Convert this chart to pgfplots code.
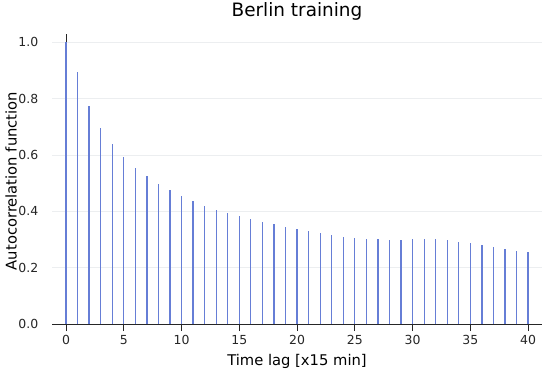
\documentclass[border=0pt]{standalone}
\usepackage{fontspec}
\setmainfont{DejaVu Sans}
\usepackage{pgfplots}
\pgfplotsset{compat=1.18}
\definecolor{stick}{RGB}{102,126,214}
\definecolor{gridc}{RGB}{236,238,240}
\begin{document}
\begin{tikzpicture}
\begin{axis}[
  scale only axis,
  width=490bp, height=290bp,
  at={(0,0)}, anchor=south west,
  xmin=-1.21, xmax=41.2,
  ymin=0, ymax=1.03,
  axis x line*=bottom,
  axis y line*=left,
  y axis line style={draw=none},
  x axis line style={draw=black!85, line width=0.9bp},
  xtick={0,5,...,40},
  ytick={0,0.2,...,1.0},
  yticklabel style={/pgf/number format/fixed, /pgf/number format/fixed zerofill, /pgf/number format/precision=1, inner sep=0pt, anchor=east, xshift=-6.5bp},
  /pgf/number format/assume math mode=true,
  ticklabel style={font=\fontsize{12.5}{14}\selectfont, text=black!85},
  ytick style={draw=none},
  xtick style={draw=black!85, line width=0.9bp},
  tick align=outside,
  major tick length=7bp,
  ymajorgrids,
  major grid style={draw=gridc, line width=0.8bp},
  extra x ticks={0},
  extra x tick labels={},
  extra x tick style={xmajorgrids=true, major grid style={draw=black!85, line width=0.9bp}},
  xticklabel style={yshift=-0.5bp},
  title={Berlin training},
  title style={font=\fontsize{18.5}{20}\selectfont, at={(0.5,1)}, anchor=base, inner sep=0pt, yshift=11.3bp},
  xlabel={Time lag [x15 min]},
  ylabel={Autocorrelation function},
  label style={font=\fontsize{14.8}{16}\selectfont, inner sep=0pt},
  xlabel style={at={(0.5,0)}, anchor=base, yshift=-41.7bp},
  ylabel style={at={(0,0.5)}, anchor=base, yshift=35.3bp, xshift=-2bp},
  clip=false,
]
\addplot[ycomb, draw=stick, line width=1.3bp, mark=none] coordinates {
(0,1.0) (1,0.896) (2,0.775) (3,0.697) (4,0.638) (5,0.592) (6,0.553) (7,0.525)
(8,0.499) (9,0.476) (10,0.455) (11,0.437) (12,0.420) (13,0.406) (14,0.393)
(15,0.382) (16,0.372) (17,0.362) (18,0.354) (19,0.344) (20,0.337) (21,0.330)
(22,0.323) (23,0.317) (24,0.310) (25,0.306) (26,0.303) (27,0.301) (28,0.298)
(29,0.298) (30,0.301) (31,0.302) (32,0.301) (33,0.297) (34,0.292) (35,0.286)
(36,0.280) (37,0.274) (38,0.267) (39,0.261) (40,0.256)
};
\end{axis}
\path (-52bp,-47bp) rectangle (498bp,324bp);
\end{tikzpicture}
\end{document}
